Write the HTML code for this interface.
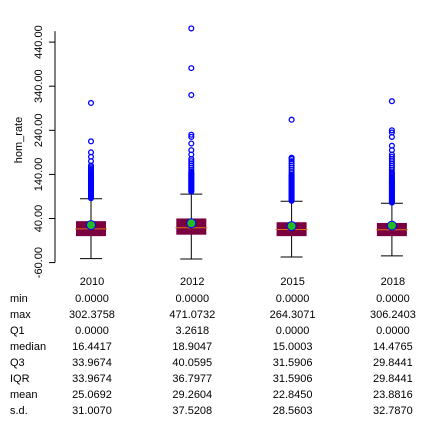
<!DOCTYPE html>
<html><head><meta charset="utf-8"><style>
body{margin:0;background:#fff;}
svg{display:block;font-family:"Liberation Sans",sans-serif;}
</style></head><body>
<svg id="chart" width="434" height="438"></svg>
<script>
const categories=["2010","2012","2015","2018"];
const q1Vals=[0,3.2618,0,0];
const medianVals=[16.4417,18.9047,15.0003,14.4765];
const q3Vals=[33.9674,40.0595,31.5906,29.8441];
const meanVals=[25.0692,29.2604,22.8450,23.8816];
const outliers2010=[86,88,90,92,94,96,98,100,102,104,106,108,110,112,114,116,118,120,122,124,126,128,130,132,134,136,138,140,144,148,152,156,160,170,180,190,215,302];
const outliers2012=[101,103,105,107,109,111,113,115,117,119,121,123,125,127,129,131,133,135,137,139,141,143,146,150,155,160,165,170,175,185,195,210,225,230,320,381,471];
const outliers2015=[80,82,84,86,88,90,92,94,96,98,100,102,104,106,108,110,112,114,116,118,120,122,124,126,128,130,132,134,136,138,140,145,150,155,160,165,170,175,178,264];
const outliers2018=[76,78,80,82,84,86,88,90,92,94,96,98,100,102,104,106,108,110,112,114,116,118,120,122,124,126,128,130,133,136,139,142,145,150,155,160,165,170,175,180,185,195,205,225,235,240,306];
const outlierSets=[outliers2010,outliers2012,outliers2015,outliers2018];
const yTicks=[-60,40,140,240,340,440];
const statLabels=["min","max","Q1","median","Q3","IQR","mean","s.d."];
const statMin=["0.0000","0.0000","0.0000","0.0000"];
const statMax=["302.3758","471.0732","264.3071","306.2403"];
const statQ1=["0.0000","3.2618","0.0000","0.0000"];
const statMedian=["16.4417","18.9047","15.0003","14.4765"];
const statQ3=["33.9674","40.0595","31.5906","29.8441"];
const statIQR=["33.9674","36.7977","31.5906","29.8441"];
const statMean=["25.0692","29.2604","22.8450","23.8816"];
const statSD=["31.0070","37.5208","28.5603","32.7870"];
const statRows=[statMin,statMax,statQ1,statMedian,statQ3,statIQR,statMean,statSD];

const NS="http://www.w3.org/2000/svg";
const svg=document.getElementById('chart');
function y(v){return 218.5-(v-40)*0.441;}
function x(i){return 91+100.3*i;}
function mk(tag,attrs,parent){const e=document.createElementNS(NS,tag);for(const k in attrs)e.setAttribute(k,attrs[k]);(parent||svg).appendChild(e);return e;}

const ax=mk('line',{x1:55,x2:55,y1:y(465),y2:y(-60),stroke:'#000','stroke-width':1});


yTicks.forEach(t=>{
  const tk=mk('line',{x1:49,x2:55,y1:y(t),y2:y(t),stroke:'#000'});
  
  
  const tx=mk('text',{x:0,y:0,'font-size':11,'text-anchor':'middle',transform:`translate(42,${y(t)}) rotate(-90)`});
  tx.textContent=t.toFixed(2);
  
  
});
const yt=mk('text',{x:0,y:0,'font-size':11,'text-anchor':'middle',transform:'translate(22,140) rotate(-90)'});
yt.textContent='hom_rate';



categories.forEach((c,i)=>{
  const cx=x(i),iqr=q3Vals[i]-q1Vals[i];
  const lw=q1Vals[i]-1.5*iqr, uw=q3Vals[i]+1.5*iqr;
  const g=mk('g',{});
  
  
  mk('line',{x1:cx,x2:cx,y1:y(uw),y2:y(lw),stroke:'#000'},g);
  mk('line',{x1:cx-11,x2:cx+11,y1:y(uw),y2:y(uw),stroke:'#000'},g);
  mk('line',{x1:cx-11,x2:cx+11,y1:y(lw),y2:y(lw),stroke:'#000'},g);
  outlierSets[i].forEach(v=>{
    const o=mk('circle',{cx:cx,cy:y(v),r:2.4,fill:'none',stroke:'#0000ff','stroke-width':1.3},g);
    
    
  });
  const b=mk('rect',{x:cx-15,y:y(q3Vals[i]),width:30,height:y(q1Vals[i])-y(q3Vals[i]),fill:'#7a0040'},g);
  
  
  const m=mk('line',{x1:cx-16,x2:cx+16,y1:y(medianVals[i]),y2:y(medianVals[i]),stroke:'#e07020','stroke-width':1},g);
  
  
  const mn=mk('circle',{cx:cx,cy:y(meanVals[i]),r:4.5,fill:'#22bb22',stroke:'#0000ff','stroke-width':1},g);
  
  
  const cl=mk('text',{x:cx+1,y:285,'font-size':11,'text-anchor':'middle'});
  cl.textContent=c;
  
  
});

statLabels.forEach((l,r)=>{
  const ry=302+16*r;
  const lt=mk('text',{x:10,y:ry,'font-size':11});
  lt.textContent=l;
  
  
  statRows[r].forEach((v,i)=>{
    const t=mk('text',{x:x(i)+1,y:ry,'font-size':11,'text-anchor':'middle'});
    t.textContent=v;
    
    
  });
});
</script>
</body></html>
